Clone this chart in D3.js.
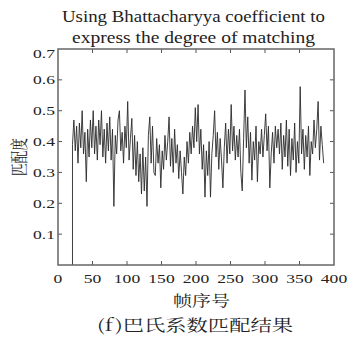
<!DOCTYPE html>
<html><head><meta charset="utf-8">
<script src="https://cdn.jsdelivr.net/npm/d3@7"></script>
<style>
html,body{margin:0;padding:0;background:#fff;}
svg{display:block;}
.serif{font-family:"Liberation Serif","DejaVu Serif","Times New Roman",serif;}
.cjk{font-family:"Noto Serif CJK SC","Noto Sans CJK SC",sans-serif;}
</style></head>
<body>
<svg id="chart" width="357" height="337"></svg>
<script>
// ---- data ----
const titleLines = ["Using Bhattacharyya coefficient to", "express the degree of matching"];
const xLabel = "帧序号";
const yLabel = "匹配度";
const caption = "(f)巴氏系数匹配结果";
const xTicks = [0, 50, 100, 150, 200, 250, 300, 350, 400];
const yTicks = [0.1, 0.2, 0.3, 0.4, 0.5, 0.6, 0.7];
const yTickLabels = ["0.1", "0.2", "0.3", "0.4", "0.5", "0.6", "0.7"];
const firstFrame = 21;     // first frame with a value
const frameStep = 2;
const startValue = 0;      // value just before tracking starts
const matchValues = [
 0.39,0.47,0.37,0.45,0.33,0.46,0.38,0.50,0.36,0.43,
 0.27,0.44,0.35,0.47,0.38,0.50,0.36,0.45,0.34,0.47,
 0.39,0.50,0.35,0.44,0.33,0.46,0.37,0.48,0.34,0.44,
 0.19,0.42,0.36,0.47,0.50,0.37,0.43,0.33,0.45,0.38,
 0.53,0.34,0.41,0.475,0.31,0.42,0.29,0.40,0.27,0.36,
 0.23,0.38,0.24,0.35,0.19,0.42,0.48,0.33,0.45,0.30,
 0.29,0.41,0.33,0.39,0.25,0.37,0.31,0.42,0.34,0.40,
 0.48,0.32,0.41,0.30,0.44,0.33,0.39,0.28,0.37,0.30,
 0.23,0.35,0.29,0.40,0.33,0.43,0.36,0.45,0.38,0.51,
 0.40,0.52,0.36,0.44,0.31,0.39,0.22,0.37,0.29,0.40,
 0.22,0.36,0.42,0.50,0.35,0.43,0.31,0.41,0.34,0.25,
 0.38,0.46,0.33,0.44,0.36,0.52,0.37,0.45,0.34,0.42,
 0.35,0.44,0.30,0.24,0.41,0.567,0.38,0.48,0.33,0.43,
 0.275,0.40,0.34,0.45,0.27,0.40,0.36,0.44,0.35,0.42,
 0.49,0.37,0.45,0.25,0.36,0.43,0.33,0.45,0.38,0.44,
 0.36,0.46,0.31,0.42,0.35,0.47,0.32,0.44,0.29,0.41,
 0.34,0.46,0.30,0.40,0.33,0.578,0.36,0.44,0.31,0.42,
 0.35,0.45,0.29,0.40,0.36,0.47,0.38,0.44,0.53,0.34,
 0.45,0.39,0.33
];

// ---- layout ----
const svg = d3.select("#chart");
const x = d3.scaleLinear().domain([0, 400]).range([58, 334]);
const y = d3.scaleLinear().domain([0, 0.7]).range([265, 49]);
const txt = "#222";

const points = [{f: firstFrame, v: startValue}].concat(
  matchValues.map((v, i) => ({f: firstFrame + i * frameStep, v})));

// data line
svg.append("path")
  .datum(points)
  .attr("fill", "none")
  .attr("stroke", "#2a2a2a")
  .attr("stroke-width", 0.9)
  .attr("d", d3.line().x(d => x(d.f)).y(d => y(d.v)));

// ticks (inside, all four sides)
const tl = 4;
const inner = xTicks.filter(t => t > 0 && t < 400);
const tg = svg.append("g").attr("stroke", "#555").attr("stroke-width", 1);
tg.append("g").selectAll("line").data(inner).join("line")
  .attr("x1", d => x(d)).attr("x2", d => x(d))
  .attr("y1", y(0)).attr("y2", y(0) - tl);
tg.append("g").selectAll("line").data(inner).join("line")
  .attr("x1", d => x(d)).attr("x2", d => x(d))
  .attr("y1", y(0.7)).attr("y2", y(0.7) + tl);
const yin = yTicks.filter(t => t < 0.7);
tg.append("g").selectAll("line").data(yin).join("line")
  .attr("x1", x(0)).attr("x2", x(0) + tl)
  .attr("y1", d => y(d)).attr("y2", d => y(d));
tg.append("g").selectAll("line").data(yin).join("line")
  .attr("x1", x(400)).attr("x2", x(400) - tl)
  .attr("y1", d => y(d)).attr("y2", d => y(d));

// frame box
svg.append("rect")
  .attr("x", x(0)).attr("y", y(0.7))
  .attr("width", x(400) - x(0)).attr("height", y(0) - y(0.7))
  .attr("fill", "none").attr("stroke", "#666").attr("stroke-width", 1.5);

// x tick labels
svg.append("g").selectAll("g").data(xTicks).join("g")
  .attr("transform", d => `translate(${x(d)},283)`)
  .append("text").attr("class", "serif")
  .attr("transform", "scale(1.3,1)")
  .attr("text-anchor", "middle")
  .attr("font-size", 13.5).attr("fill", txt)
  .text(d => d);

// y tick labels
svg.append("g").selectAll("g").data(yTicks).join("g")
  .attr("transform", d => `translate(55,${y(d) + (d === 0.7 ? 4.5 : 0)})`)
  .append("text").attr("class", "serif")
  .attr("transform", "scale(1.3,1)")
  .attr("text-anchor", "end").attr("dy", "0.34em")
  .attr("font-size", 13.5).attr("fill", txt)
  .text((d, i) => yTickLabels[i]);

// title
const titleX = [62, 72], titleY = [22, 43], titleW = [263, 243];
titleLines.forEach((t, i) => {
  svg.append("text").attr("class", "serif")
    .attr("x", titleX[i]).attr("y", titleY[i])
    .attr("textLength", titleW[i]).attr("lengthAdjust", "spacingAndGlyphs")
    .attr("font-size", 16).attr("fill", txt)
    .text(t);
});

// axis labels
svg.append("text").attr("class", "cjk")
  .attr("x", 173).attr("y", 306)
  .attr("textLength", 57).attr("lengthAdjust", "spacingAndGlyphs")
  .attr("font-size", 15).attr("fill", txt)
  .text(xLabel);

svg.append("text").attr("class", "cjk")
  .attr("transform", `translate(26,${(y(0) + y(0.7)) / 2}) rotate(-90)`)
  .attr("x", -19).attr("y", 0)
  .attr("textLength", 38).attr("lengthAdjust", "spacingAndGlyphs")
  .attr("font-size", 18).attr("fill", txt)
  .text(yLabel);

// caption
svg.append("text").attr("class", "cjk")
  .attr("x", 97).attr("y", 331)
  .attr("textLength", 196).attr("lengthAdjust", "spacingAndGlyphs")
  .attr("font-size", 16).attr("fill", txt)
  .text(caption);
</script>
</body></html>
